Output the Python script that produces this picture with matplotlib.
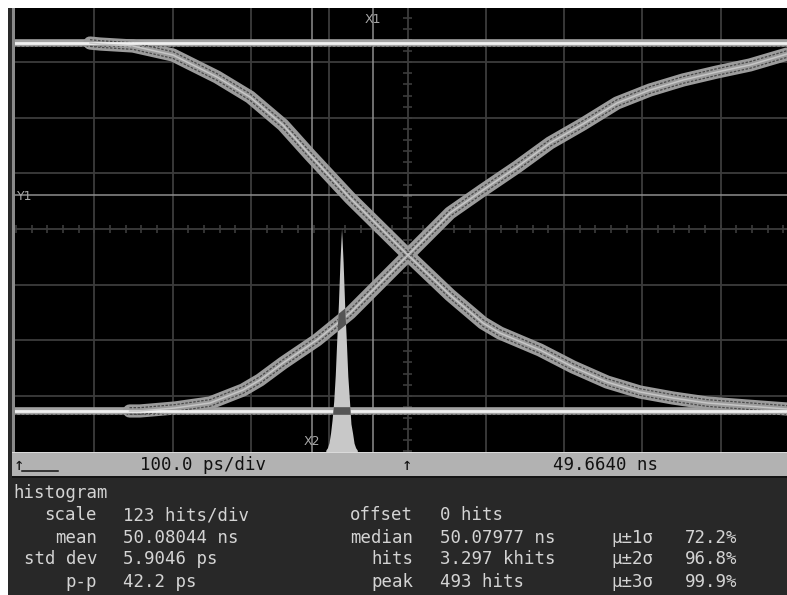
import matplotlib
matplotlib.use("Agg")
import matplotlib.pyplot as plt
from matplotlib.patches import Rectangle
import numpy as np

t_left_ns = 49.6640          # time at left edge of graticule
ns_per_div = 0.1             # 100.0 ps/div
hist_hits_per_div = 123      # histogram scale

high_level_div = 3.345
low_level_div = -3.273

fall_t_ns = [49.7585, 49.7713, 49.8134, 49.8645, 49.9207, 49.9629, 50.0050, 50.0395,
             50.0906, 50.1646, 50.2183, 50.2604, 50.2821, 50.3332, 50.3754, 50.4188,
             50.4609, 50.5031, 50.5465, 50.6308, 50.6487]
fall_v_div = [3.345, 3.327, 3.291, 3.129, 2.734, 2.374, 1.871, 1.331,
              0.558, -0.468, -1.187, -1.691, -1.871, -2.176, -2.482, -2.752,
              -2.932, -3.040, -3.129, -3.219, -3.237]

rise_t_ns = [49.8090, 49.8222, 49.8671, 49.9118, 49.9539, 49.9756, 50.0050, 50.0484,
             50.0906, 50.1327, 50.1646, 50.2183, 50.2604, 50.3038, 50.3460, 50.3881,
             50.4316, 50.4737, 50.5159, 50.5593, 50.6014, 50.6487]
rise_v_div = [-3.273, -3.273, -3.219, -3.129, -2.896, -2.716, -2.410, -1.996,
              -1.511, -0.917, -0.468, 0.288, 0.701, 1.115, 1.547, 1.888,
              2.266, 2.500, 2.680, 2.824, 2.950, 3.147]

cursor_x1_ns = 50.1199
cursor_x2_ns = 50.0420
cursor_y1_div = 0.61

hist_first_edge_ns = 50.0594
hist_bin_ns = 0.002
hist_hits = [2, 7, 18, 40, 70, 110, 168, 250, 325, 420, 493, 418, 322, 248, 166,
             114, 60, 40, 17, 7, 2]

status_timebase = "100.0 ps/div"
status_position = "49.6640 ns"

stat_labels_1 = ["scale", "mean", "std dev", "p-p"]
stat_values_1 = ["123 hits/div", "50.08044 ns", "5.9046 ps", "42.2 ps"]
stat_labels_2 = ["offset", "median", "hits", "peak"]
stat_values_2 = ["0 hits", "50.07977 ns", "3.297 khits", "493 hits"]
sigma_labels = ["μ±1σ", "μ±2σ", "μ±3σ"]
sigma_values = ["72.2%", "96.8%", "99.9%"]

# ---------------- layout ----------------
W, H = 787, 595
fig = plt.figure(figsize=(W / 100, H / 100), dpi=100, facecolor="white")

# background axes in pixel coordinates
bg = fig.add_axes([0, 0, 1, 1])
bg.set_xlim(0, W)
bg.set_ylim(H, 0)
bg.axis("off")
bg.add_patch(Rectangle((8, 8), W - 8, H - 8, color="#282828", lw=0))
bg.add_patch(Rectangle((12, 8), 2.5, 444, color="#8a8a8a", lw=0))
bg.add_patch(Rectangle((12, 452), W - 12, 24, color="#b2b2b2", lw=0))
bg.add_patch(Rectangle((12, 451.5), W - 12, 1.2, color="#dadada", lw=0))
bg.add_patch(Rectangle((12, 476), W - 12, 2, color="#141414", lw=0))

mono = "DejaVu Sans Mono"
# status bar
bg.text(14, 465, "↑", family=mono, fontsize=12.5, color="#111111", va="center", ha="left")
bg.plot([22, 58], [470.5, 470.5], color="#111111", lw=1.1)
bg.text(140, 465, status_timebase, family=mono, fontsize=12.5, color="#111111", va="center", ha="left")
bg.text(407, 465, "↑", family=mono, fontsize=12.5, color="#111111", va="center", ha="center")
bg.text(553, 465, status_position, family=mono, fontsize=12.5, color="#111111", va="center", ha="left")

# statistics panel
tc = "#d4d4d4"
fs = 12.5
bg.text(13, 493, "histogram", family=mono, fontsize=fs, color=tc, va="center", ha="left")
rows_y = [515, 538, 559, 582]
for i, y in enumerate(rows_y):
    bg.text(97, y, stat_labels_1[i], family=mono, fontsize=fs, color=tc, va="center", ha="right")
    bg.text(123, y, stat_values_1[i], family=mono, fontsize=fs, color=tc, va="center", ha="left")
    bg.text(413, y, stat_labels_2[i], family=mono, fontsize=fs, color=tc, va="center", ha="right")
    bg.text(440, y, stat_values_2[i], family=mono, fontsize=fs, color=tc, va="center", ha="left")
for i, y in enumerate(rows_y[1:]):
    bg.text(611, y, sigma_labels[i], family=mono, fontsize=fs, color=tc, va="center", ha="left")
    bg.text(685, y, sigma_values[i], family=mono, fontsize=fs, color=tc, va="center", ha="left")

# graticule axes (time in ns, vertical in divisions)
px_per_div_x = 78.3
px_per_div_y = 55.6
x0_px, x1_px, y0_px, y1_px = 15, W, 8, 452
ax = fig.add_axes([x0_px / W, 1 - y1_px / H, (x1_px - x0_px) / W, (y1_px - y0_px) / H])
ax.set_facecolor("black")
ax.set_xlim(t_left_ns + (x0_px - 16) / px_per_div_x * ns_per_div,
            t_left_ns + (x1_px - 16) / px_per_div_x * ns_per_div)
ax.set_ylim(-(y1_px - 229) / px_per_div_y, (229 - y0_px) / px_per_div_y)
for s in ax.spines.values():
    s.set_visible(False)
ax.set_xticks([])
ax.set_yticks([])

gc = "#3c3c3c"
ax.vlines([t_left_ns + k * ns_per_div for k in range(1, 11)], -5, 5, color=gc, lw=1.3, zorder=1)
ax.hlines(range(-3, 4), 49.0, 51.0, color=gc, lw=1.3, zorder=1)
# centre axes with minor ticks
t_center = t_left_ns + 5 * ns_per_div
tc_x = [t_left_ns + j * ns_per_div / 5 for j in range(0, 51)]
ax.vlines(tc_x, -0.075, 0.075, color=gc, lw=1.2, zorder=1)
tc_y = [j / 5 for j in range(-20, 21)]
ax.hlines(tc_y, t_center - 0.0055, t_center + 0.0055, color=gc, lw=1.2, zorder=1)

# cursors
cc = "#8e8e8e"
ax.axvline(cursor_x1_ns, color=cc, lw=1.1, zorder=2)
ax.axvline(cursor_x2_ns, color=cc, lw=1.1, zorder=2)
ax.axhline(cursor_y1_div, color=cc, lw=1.1, zorder=2)


def draw_edge(t, v, z=3):
    arts = []
    arts += ax.plot(t, v, color="#9c9c9c", lw=9.5, solid_capstyle="round",
                    solid_joinstyle="round", zorder=z)
    for off in (-0.06, 0.06):
        arts += ax.plot(t, np.array(v) + off, color="#4a4a4a", lw=0.9,
                        ls=(0, (2.0, 1.2)), zorder=z + 0.1)
    arts += ax.plot(t, v, color="#c6c6c6", lw=1.1, zorder=z + 0.2)
    return arts


def draw_level(level, z=3):
    arts = []
    arts.append(ax.axhline(level, color="#a2a2a2", lw=5.5, zorder=z))
    arts.append(ax.axhline(level - 0.06, color="#5a5a5a", lw=0.8, ls=(0, (1.5, 2.5)), zorder=z + 0.1))
    arts.append(ax.axhline(level, color="#f0f0f0", lw=2.0, zorder=z + 0.2))
    return arts


draw_level(high_level_div)
draw_level(low_level_div)
draw_edge(fall_t_ns, fall_v_div)
draw_edge(rise_t_ns, rise_v_div)

# histogram (outline through bin centres)
centers = [hist_first_edge_ns + (i + 0.5) * hist_bin_ns for i in range(len(hist_hits))]
heights = [-4 + h / hist_hits_per_div for h in hist_hits]
xs = [centers[0] - hist_bin_ns] + centers + [centers[-1] + hist_bin_ns]
ys = [-4.2] + heights + [-4.2]
hp = ax.fill(xs, ys, color="#c8c8c8", lw=0, zorder=6)[0]

# traces overlapping histogram appear dark
for a in (ax.plot(rise_t_ns, rise_v_div, color="#555555", lw=9.5, zorder=7)
          + [ax.axhline(low_level_div, color="#555555", lw=5.5, zorder=7)]):
    a.set_clip_path(hp)

# cursor labels
lc = "#a6a6a6"
ax.text(cursor_x1_ns, 3.76, "X1", color=lc, fontsize=9, ha="center", va="center", zorder=8,
        family="DejaVu Sans")
ax.text(cursor_x2_ns, -3.82, "X2", color=lc, fontsize=9, ha="center", va="center", zorder=8,
        family="DejaVu Sans")
ax.text(t_left_ns + 0.001, cursor_y1_div - 0.03, "Y1", color=lc, fontsize=9, ha="left",
        va="center", zorder=8, family="DejaVu Sans")

fig.savefig("out.png", dpi=100, facecolor="white")
